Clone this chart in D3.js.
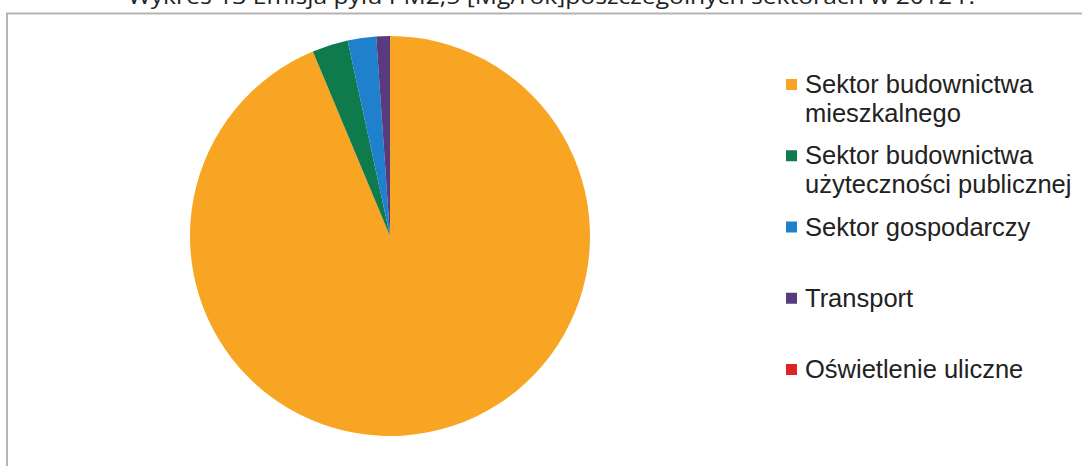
<!DOCTYPE html>
<html>
<head>
<meta charset="utf-8">
<script src="https://cdn.jsdelivr.net/npm/d3@7"></script>
<style>
  html, body { margin: 0; padding: 0; background: #fff; }
  svg { display: block; }
</style>
</head>
<body>
<svg id="chart" width="1082" height="466"></svg>
<script>
// PM2.5 emission by sector, 2012 [Mg/rok]
const sectors = [
  "Sektor budownictwa mieszkalnego",
  "Sektor budownictwa użyteczności publicznej",
  "Sektor gospodarczy",
  "Transport",
  "Oświetlenie uliczne"
];
const legendLines = [
  ["Sektor budownictwa", "mieszkalnego"],
  ["Sektor budownictwa", "użyteczności publicznej"],
  ["Sektor gospodarczy"],
  ["Transport"],
  ["Oświetlenie uliczne"]
];
const emissions = [93.7, 2.9, 2.3, 1.1, 0];
const colors = ["#F7A522", "#0F7A4C", "#1F80CC", "#583A7E", "#E02126"];
const title = "Wykres 13 Emisja pyłu PM2,5 [Mg/rok]poszczególnych sektorach w 2012 r.";

const svg = d3.select("#chart");

// chart frame
svg.append("path")
  .attr("d", "M7,470 L7,13.5 L1090,13.5")
  .attr("fill", "none")
  .attr("stroke", "#b4b4b4")
  .attr("stroke-width", 2);

// title (sits above the frame, partly out of view)
svg.append("text")
  .attr("x", 128)
  .attr("y", 4)
  .attr("font-family", "'Open Sans', 'Liberation Sans', sans-serif")
  .attr("font-size", 22)
  .attr("fill", "#222")
  .attr("textLength", 847)
  .attr("lengthAdjust", "spacingAndGlyphs")
  .text(title);

// pie
const cx = 390, cy = 236, r = 200;
const color = d3.scaleOrdinal().domain(sectors).range(colors);
const pie = d3.pie().sort(null).value(d => d.value);
const arc = d3.arc().innerRadius(0).outerRadius(r);
const data = sectors.map((s, i) => ({ name: s, value: emissions[i] }));

svg.append("g")
  .attr("transform", `translate(${cx},${cy})`)
  .selectAll("path")
  .data(pie(data).filter(d => d.data.value > 0))
  .join("path")
  .attr("d", arc)
  .attr("fill", d => color(d.data.name));

// legend
const legendY = d3.scalePoint().domain(sectors).range([93, 378]);
const legend = svg.append("g")
  .attr("font-family", "'Liberation Sans', Arial, sans-serif")
  .attr("font-size", 25.5)
  .attr("fill", "#222");

const item = legend.selectAll("g")
  .data(sectors)
  .join("g")
  .attr("transform", d => `translate(786,${legendY(d)})`);

item.append("rect")
  .attr("x", 0)
  .attr("y", -14)
  .attr("width", 11)
  .attr("height", 11)
  .attr("fill", d => color(d));

item.append("text")
  .attr("x", 19)
  .attr("y", 0)
  .selectAll("tspan")
  .data((d, i) => legendLines[i])
  .join("tspan")
  .attr("x", 19)
  .attr("dy", (d, j) => j === 0 ? 0 : 28.5)
  .text(d => d);
</script>
</body>
</html>
